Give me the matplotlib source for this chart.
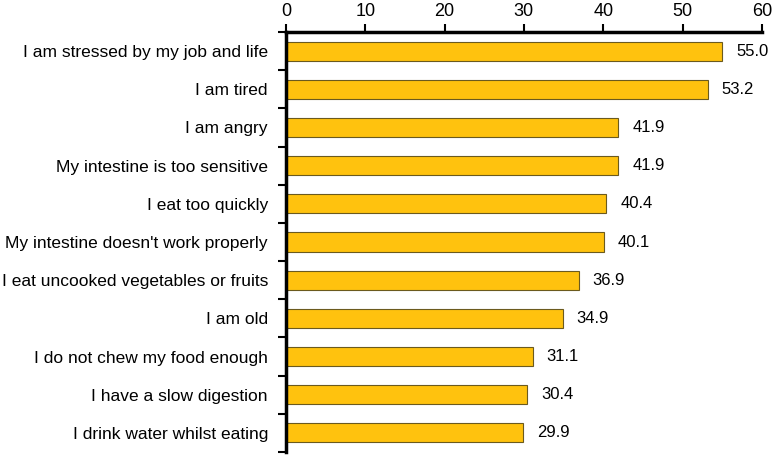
import matplotlib.pyplot as plt
import numpy as np

plt.rcParams['font.family'] = ['Liberation Sans', 'DejaVu Sans']

# Reasons given (top to bottom) and percentage of respondents
reasons = [
    "I am stressed by my job and life",
    "I am tired",
    "I am angry",
    "My intestine is too sensitive",
    "I eat too quickly",
    "My intestine doesn't work properly",
    "I eat uncooked vegetables or fruits",
    "I am old",
    "I do not chew my food enough",
    "I have a slow digestion",
    "I drink water whilst eating",
]
percent = [55.0, 53.2, 41.9, 41.9, 40.4, 40.1, 36.9, 34.9, 31.1, 30.4, 29.9]
x_ticks = [0, 10, 20, 30, 40, 50, 60]

fig = plt.figure(figsize=(7.75, 4.55), dpi=100)
ax = fig.add_axes([0.369, 0.0066, 0.614, 0.923])

y = np.arange(len(reasons))
ax.barh(y, percent, height=0.5, color="#FFC20E", edgecolor="#6b5a1e", linewidth=0.8)

# value labels to the right of each bar
for yi, v in zip(y, percent):
    ax.annotate(f"{v:.1f}", (v, yi), xytext=(10, 0), textcoords="offset points",
                va="center", ha="left", fontsize=12)

ax.set_xlim(0, 60)
ax.set_ylim(len(reasons) - 0.5, -0.5)

# x axis on top
ax.xaxis.tick_top()
ax.set_xticks(x_ticks)
ax.tick_params(axis='x', direction='out', length=6, width=1.5, labelsize=13, pad=3)

# y labels at bar centres, ticks at the category boundaries
ax.set_yticks(y)
ax.set_yticklabels(reasons, fontsize=12.5)
ax.tick_params(axis='y', which='major', length=0, pad=13)
ax.set_yticks(np.arange(len(reasons) + 1) - 0.5, minor=True)
ax.tick_params(axis='y', which='minor', direction='out', length=6, width=1.5)

for side in ['right', 'bottom']:
    ax.spines[side].set_visible(False)
ax.spines['top'].set_linewidth(2.5)
ax.spines['left'].set_linewidth(2.5)

plt.savefig("out.png", dpi=100)
